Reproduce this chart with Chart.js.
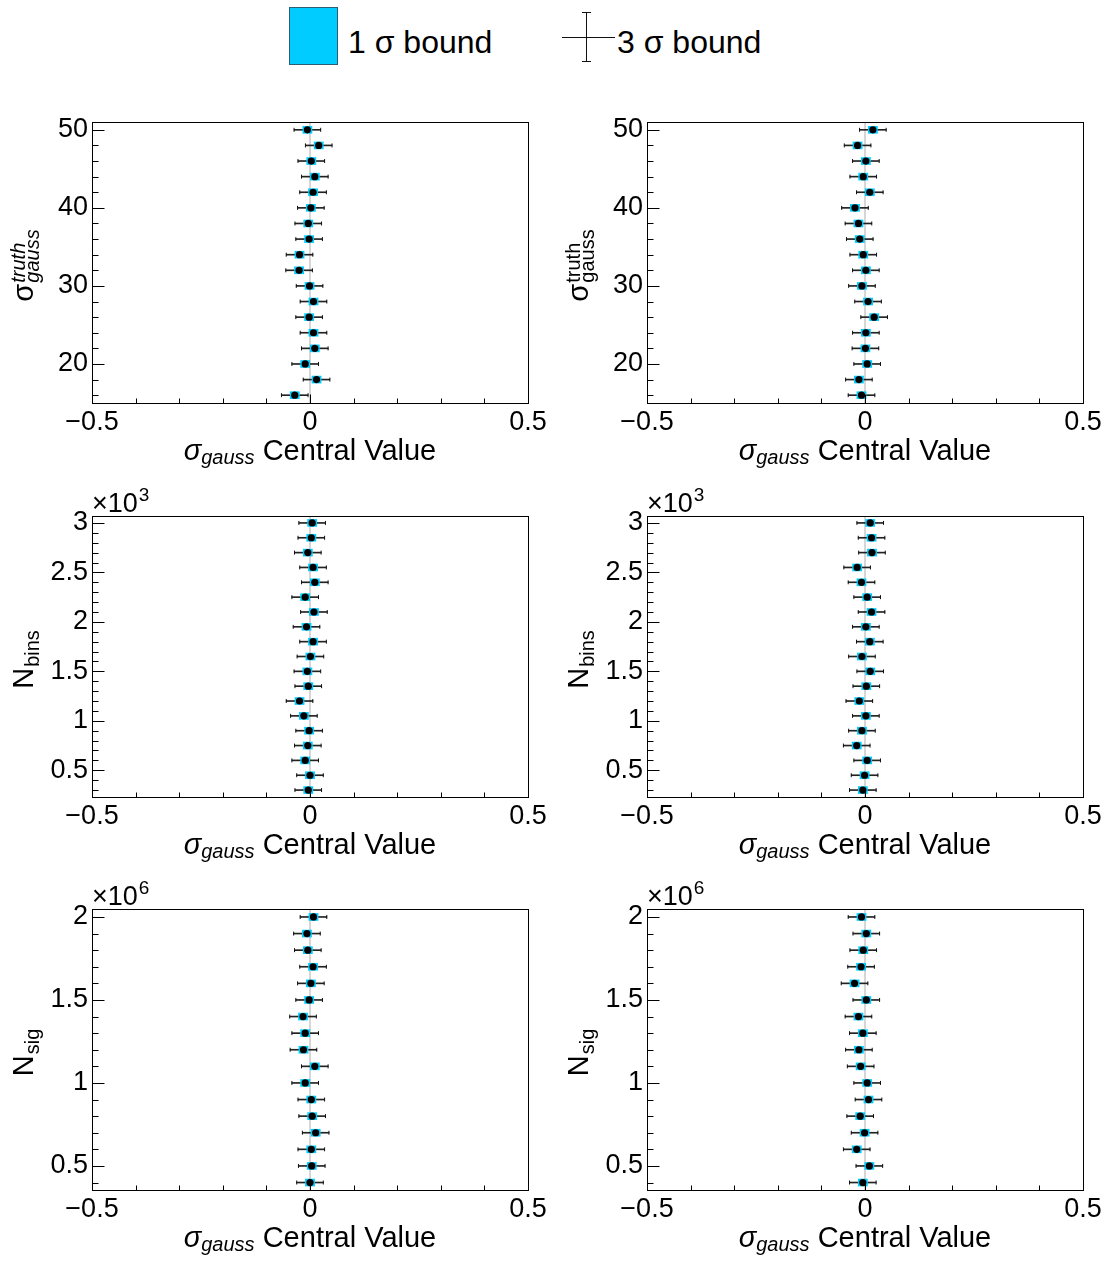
<!DOCTYPE html>
<html>
<head>
<meta charset="utf-8">
<script src="https://cdn.jsdelivr.net/npm/chart.js@4.4.1/dist/chart.umd.min.js"></script>
<style>
body { margin:0; background:#fff; width:1111px; height:1262px; overflow:hidden; position:relative; font-family:"Liberation Sans", Arial, sans-serif; }
canvas { position:absolute; }
.lg { position:absolute; }
.txt { font-size:32px; line-height:32px; color:#000; white-space:nowrap; }
.ln { position:absolute; background:#111; }
</style>
</head>
<body>
<!-- 凡例 -->
<div class="lg" style="left:289px;top:7px;width:47px;height:56px;background:#00ccff;border:1px solid #2c5d74"></div>
<div class="lg txt" style="left:348px;top:26px">1 σ bound</div>
<div class="ln" style="left:562px;top:37px;width:53px;height:1px"></div>
<div class="ln" style="left:586px;top:12px;width:1px;height:50px"></div>
<div class="ln" style="left:582px;top:12px;width:9px;height:1px"></div>
<div class="ln" style="left:582px;top:61px;width:9px;height:1px"></div>
<div class="lg txt" style="left:617px;top:26px">3 σ bound</div>

<canvas id="c1" width="555" height="391" style="left:0;top:82px"></canvas>
<canvas id="c2" width="556" height="391" style="left:555px;top:82px"></canvas>
<canvas id="c3" width="555" height="391" style="left:0;top:476px"></canvas>
<canvas id="c4" width="556" height="391" style="left:555px;top:476px"></canvas>
<canvas id="c5" width="555" height="391" style="left:0;top:869px"></canvas>
<canvas id="c6" width="556" height="391" style="left:555px;top:869px"></canvas>

<script>
const FONT = '"Liberation Sans", Arial, sans-serif';

// x軸（中心値）
const xTicks = [-0.5, 0, 0.5];
const err1 = 0.0105;  // 1σ
const err3 = 0.0305;  // 3σ

// σ_gauss^truth
const sigmaTruth = [50, 48, 46, 44, 42, 40, 38, 36, 34, 32, 30, 28, 26, 24, 22, 20, 18, 16];
const sigmaLeftX = [-0.006, 0.020, 0.003, 0.011, 0.007, 0.002, -0.004, -0.002, -0.024, -0.025, -0.001, 0.008, -0.002, 0.008, 0.011, -0.011, 0.015, -0.035];
const sigmaRightX = [0.018, -0.017, 0.002, -0.004, 0.011, -0.023, -0.015, -0.012, -0.004, 0.002, -0.007, 0.007, 0.021, 0.002, 0.001, 0.005, -0.014, -0.008];
const sigmaTicks = [20, 30, 40, 50];

// N_bins
const nBins = [3000, 2850, 2700, 2550, 2400, 2250, 2100, 1950, 1800, 1650, 1500, 1350, 1200, 1050, 900, 750, 600, 450, 300];
const binsLeftX = [0.005, 0.003, -0.005, 0.007, 0.011, -0.011, 0.009, -0.008, 0.007, 0.001, -0.006, -0.004, -0.024, -0.014, -0.002, -0.005, -0.011, 0.000, -0.004];
const binsRightX = [0.012, 0.015, 0.016, -0.018, -0.008, 0.005, 0.015, 0.002, 0.011, -0.007, 0.012, 0.003, -0.013, 0.002, -0.007, -0.019, 0.005, -0.001, -0.005];
const binsTicks = [500, 1000, 1500, 2000, 2500, 3000];

// N_sig
const nSig = [2000000, 1900000, 1800000, 1700000, 1600000, 1500000, 1400000, 1300000, 1200000, 1100000, 1000000, 900000, 800000, 700000, 600000, 500000, 400000];
const sigLeftX = [0.008, -0.007, -0.005, 0.007, 0.002, -0.002, -0.016, -0.011, -0.015, 0.011, -0.011, 0.003, 0.005, 0.013, 0.003, 0.004, 0.000];
const sigRightX = [-0.008, 0.003, -0.004, -0.009, -0.024, 0.003, -0.015, -0.005, -0.014, -0.010, 0.005, 0.008, -0.011, -0.001, -0.019, 0.010, -0.005];
const sigTicks = [500000, 1000000, 1500000, 2000000];

const titleTruthItalic = { base: 'σ', sup: 'truth', sub: 'gauss', ssItalic: true };
const titleTruth = { base: 'σ', sup: 'truth', sub: 'gauss', ssItalic: false };
const titleBins = { base: 'N', sub: 'bins', ssItalic: false };
const titleSig = { base: 'N', sub: 'sig', ssItalic: false };

const panels = [
    { id: 'c1', ys: sigmaTruth, xs: sigmaLeftX, yMin: 15, yMax: 51, yTicks: sigmaTicks, minor: 2, div: 1, exp: null, title: titleTruthItalic, padR: 27 },
    { id: 'c2', ys: sigmaTruth, xs: sigmaRightX, yMin: 15, yMax: 51, yTicks: sigmaTicks, minor: 2, div: 1, exp: null, title: titleTruth, padR: 28 },
    { id: 'c3', ys: nBins, xs: binsLeftX, yMin: 230, yMax: 3070, yTicks: binsTicks, minor: 100, div: 1000, exp: '3', title: titleBins, padR: 27 },
    { id: 'c4', ys: nBins, xs: binsRightX, yMin: 230, yMax: 3070, yTicks: binsTicks, minor: 100, div: 1000, exp: '3', title: titleBins, padR: 28 },
    { id: 'c5', ys: nSig, xs: sigLeftX, yMin: 355000, yMax: 2048000, yTicks: sigTicks, minor: 100000, div: 1000000, exp: '6', title: titleSig, padR: 27 },
    { id: 'c6', ys: nSig, xs: sigRightX, yMin: 355000, yMax: 2048000, yTicks: sigTicks, minor: 100000, div: 1000000, exp: '6', title: titleSig, padR: 28 },
];

function fmtX(v) {
    if (v === 0) return '0';
    return (v < 0 ? '\u2212' : '') + Math.abs(v);
}

// 回転した縦軸タイトル（上付き・下付き）
function drawYTitle(ctx, t, bx, cy) {
    const big = '29px ' + FONT;
    const small = (t.ssItalic ? 'italic ' : '') + '20px ' + FONT;
    ctx.save();
    ctx.font = big;
    const wb = ctx.measureText(t.base).width;
    ctx.font = small;
    const ws = Math.max(t.sup ? ctx.measureText(t.sup).width : 0, t.sub ? ctx.measureText(t.sub).width : 0);
    const total = wb + 1 + ws;
    ctx.translate(bx, cy);
    ctx.rotate(-Math.PI / 2);
    ctx.fillStyle = '#000';
    ctx.textAlign = 'left';
    ctx.textBaseline = 'alphabetic';
    let x = -total / 2;
    ctx.font = big;
    ctx.fillText(t.base, x, 0);
    x += wb + 1;
    ctx.font = small;
    if (t.sup) ctx.fillText(t.sup, x, -8);
    if (t.sub) ctx.fillText(t.sub, x, 6);
    ctx.restore();
}

function drawXTitle(ctx, cx, by) {
    const sig = 'italic 29px ' + FONT;
    const sub = 'italic 20px ' + FONT;
    const rest = '29px ' + FONT;
    ctx.save();
    ctx.fillStyle = '#000';
    ctx.textAlign = 'left';
    ctx.textBaseline = 'alphabetic';
    ctx.font = sig; const w1 = ctx.measureText('σ').width;
    ctx.font = sub; const w2 = ctx.measureText('gauss').width;
    ctx.font = rest; const w3 = ctx.measureText(' Central Value').width;
    let x = cx - (w1 + w2 + w3) / 2;
    ctx.font = sig; ctx.fillText('σ', x, by); x += w1;
    ctx.font = sub; ctx.fillText('gauss', x, by + 4); x += w2;
    ctx.font = rest; ctx.fillText(' Central Value', x, by);
    ctx.restore();
}

const rootPlugin = {
    id: 'rootPlugin',
    beforeDatasetsDraw(chart) {
        const { ctx, chartArea: a, scales } = chart;
        const px = scales.x.getPixelForValue(0);
        ctx.save();
        ctx.strokeStyle = 'rgb(200,200,200)';
        ctx.lineWidth = 1.5;
        ctx.beginPath();
        ctx.moveTo(px, a.top);
        ctx.lineTo(px, a.bottom);
        ctx.stroke();
        ctx.restore();
    },
    afterDraw(chart) {
        const { ctx, chartArea: a, scales } = chart;
        const p = chart.options.plugins.rootPlugin.panel;
        const L = Math.round(a.left) + 0.5, R = Math.round(a.right) + 0.5;
        const T = Math.round(a.top) + 0.5, B = Math.round(a.bottom) + 0.5;
        ctx.save();
        ctx.strokeStyle = '#000';
        ctx.lineWidth = 1;
        ctx.strokeRect(L, T, R - L, B - T);
        ctx.beginPath();
        // y軸の目盛り（内向き）
        for (let k = Math.ceil(p.yMin / p.minor); k * p.minor <= p.yMax; k++) {
            const v = k * p.minor;
            const y = Math.round(scales.y.getPixelForValue(v)) + 0.5;
            const len = p.yTicks.includes(v) ? 12 : 6;
            ctx.moveTo(L, y);
            ctx.lineTo(L + len, y);
        }
        // x軸の目盛り
        for (let k = -5; k <= 5; k++) {
            const x = Math.round(scales.x.getPixelForValue(k / 10)) + 0.5;
            const len = (k % 5 === 0) ? 9 : 5;
            ctx.moveTo(x, B);
            ctx.lineTo(x, B - len);
        }
        ctx.stroke();
        ctx.restore();

        drawYTitle(ctx, p.title, 33, (a.top + a.bottom) / 2 + 3);
        drawXTitle(ctx, (a.left + a.right) / 2, a.bottom + 57);

        if (p.exp) {
            ctx.save();
            ctx.fillStyle = '#000';
            ctx.textAlign = 'left';
            ctx.textBaseline = 'alphabetic';
            ctx.font = '27px ' + FONT;
            const w = ctx.measureText('\u00d710').width;
            ctx.fillText('\u00d710', a.left, a.top - 4);
            ctx.font = '19px ' + FONT;
            ctx.fillText(p.exp, a.left + w + 1, a.top - 15);
            ctx.restore();
        }
    }
};

function renderPanel(p) {
    const dots = p.ys.map((y, i) => ({ x: p.xs[i], y: y }));
    const caps = p.ys.flatMap((y, i) => [{ x: p.xs[i] - err3, y: y }, { x: p.xs[i] + err3, y: y }]);
    const boxes = p.ys.map((y, i) => ({ y: y, x: [p.xs[i] - err1, p.xs[i] + err1] }));
    const bars3 = p.ys.map((y, i) => ({ y: y, x: [p.xs[i] - err3, p.xs[i] + err3] }));

    new Chart(document.getElementById(p.id).getContext('2d'), {
        type: 'scatter',
        data: {
            datasets: [
                { type: 'scatter', data: dots, pointRadius: 3.6, pointBackgroundColor: '#000', pointBorderWidth: 0, order: 0 },
                { type: 'scatter', data: caps, pointStyle: 'line', rotation: 90, pointRadius: 2, pointBorderColor: '#111', pointBorderWidth: 1, order: 1 },
                { type: 'bar', indexAxis: 'y', data: boxes, barThickness: 7, backgroundColor: '#00ccff', borderWidth: 0, grouped: false, order: 2 },
                { type: 'bar', indexAxis: 'y', data: bars3, barThickness: 1, backgroundColor: '#222', borderWidth: 0, grouped: false, order: 3 },
            ]
        },
        options: {
            responsive: false,
            animation: false,
            events: [],
            layout: { padding: { top: 40, right: p.padR, left: 0, bottom: 0 } },
            plugins: {
                legend: { display: false },
                tooltip: { enabled: false },
                rootPlugin: { panel: p }
            },
            scales: {
                x: {
                    type: 'linear',
                    min: -0.5,
                    max: 0.5,
                    offset: false,
                    afterBuildTicks: s => { s.ticks = xTicks.map(v => ({ value: v })); },
                    afterFit: s => { s.height = 70; },
                    grid: { display: false, drawTicks: false },
                    border: { display: false },
                    ticks: {
                        callback: v => fmtX(v),
                        font: { size: 27, family: FONT },
                        color: '#000',
                        padding: 3,
                        maxRotation: 0,
                        autoSkip: false
                    }
                },
                y: {
                    type: 'linear',
                    min: p.yMin,
                    max: p.yMax,
                    offset: false,
                    afterBuildTicks: s => { s.ticks = p.yTicks.map(v => ({ value: v })); },
                    afterFit: s => { s.width = 92; },
                    grid: { display: false, drawTicks: false },
                    border: { display: false },
                    ticks: {
                        callback: v => String(v / p.div),
                        font: { size: 27, family: FONT },
                        color: '#000',
                        padding: 4,
                        autoSkip: false
                    }
                }
            }
        },
        plugins: [rootPlugin]
    });
}

panels.forEach(renderPanel);
</script>
</body>
</html>
